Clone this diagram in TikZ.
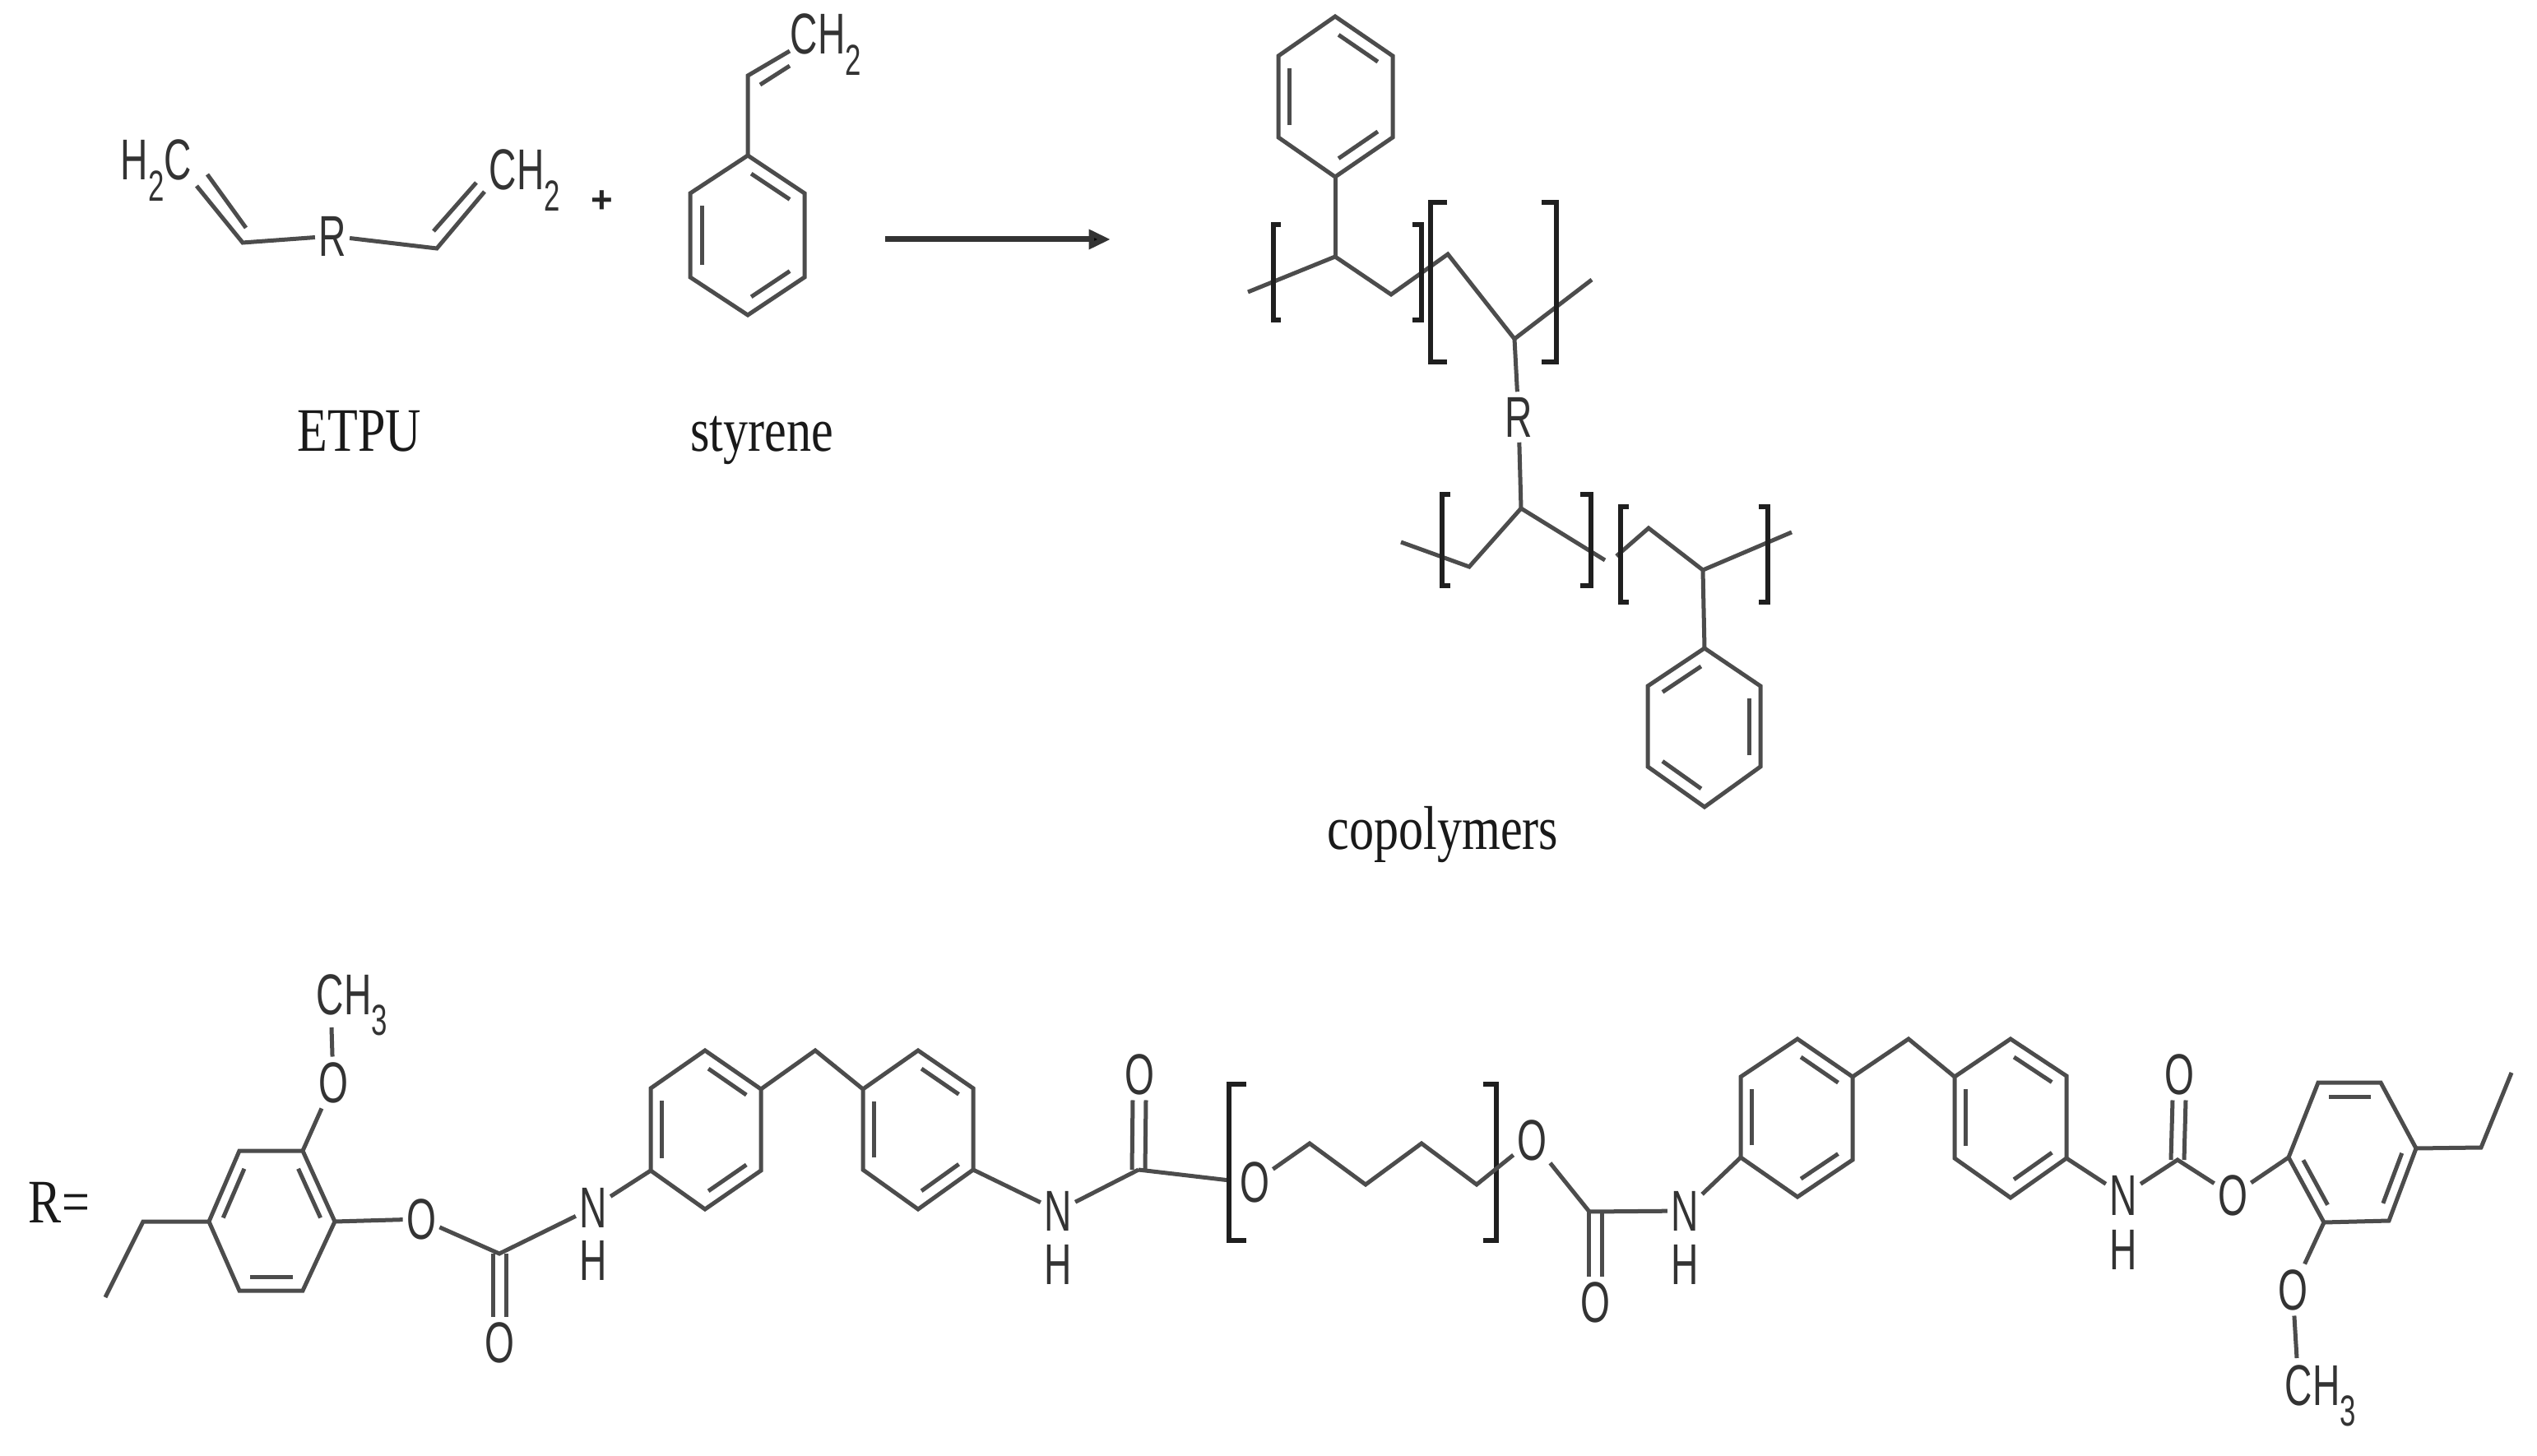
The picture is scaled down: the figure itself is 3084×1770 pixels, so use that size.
\documentclass[tikz,border=0pt]{standalone}
\usepackage{fontspec}
\setmainfont{Liberation Serif}
\newfontfamily\atomfont{Liberation Sans}
\usetikzlibrary{calc,arrows.meta}
\newcommand{\lowsub}[1]{\raisebox{-.36em}{\fontsize{15}{17}\selectfont #1}}
\newcommand{\hexa}[7]{%
  \coordinate (#11) at #2; \coordinate (#12) at #3; \coordinate (#13) at #4;
  \coordinate (#14) at #5; \coordinate (#15) at #6; \coordinate (#16) at #7;
  \coordinate (#1C) at ($(#11)!.5!(#14)$);
  \draw[bond] (#11)--(#12)--(#13)--(#14)--(#15)--(#16)--cycle;}
\newcommand{\inb}[3]{\draw[bond,shorten <=.05cm,shorten >=.05cm] ($(#1#2)!.2!(#1C)$) -- ($(#1#3)!.2!(#1C)$);}
\newcommand{\dblv}[2]{\draw[bond] ([xshift=-.08cm]#1) -- ([xshift=-.08cm]#2);\draw[bond] ([xshift=.08cm]#1) -- ([xshift=.08cm]#2);}
\newcommand{\brk}[4]{\draw[brkt] (#4,#2)--(#1,#2)--(#1,#3)--(#4,#3);}
\tikzset{
  bond/.style={draw=black!70,line width=.05cm,line join=miter},
  brkt/.style={draw=black!88,line width=.065cm},
  atom/.style={font=\atomfont\fontsize{19.9}{22}\selectfont,text=black!80,inner sep=.06cm,xscale=.66,transform shape},
  lab/.style={font=\fontsize{17.1}{20}\selectfont,text=black!90,inner sep=0pt,anchor=base,yscale=1.25,transform shape},
}
\begin{document}
\begin{tikzpicture}[x=.01cm,y=-.01cm]
\useasboundingbox (0,0) rectangle (3084,1770);
\fill[white] (0,0) rectangle (3084,1770);

% --- ETPU
\node[atom] (h2c) at (190,207) {H\lowsub{2}C};
\node[atom] (ch2a) at (638,219) {CH\lowsub{2}};
\node[atom] (ra) at (404,287) {R};
\coordinate (v1) at (295,295); \coordinate (v2) at (531,302);
\coordinate (v1a) at (239,226); \coordinate (v1b) at (252,212); \coordinate (v1c) at (299,277);
\coordinate (v2a) at (589,233); \coordinate (v2b) at (527,281); \coordinate (v2c) at (579,222);
\draw[bond] (v1a) -- (v1) -- (ra);
\draw[bond] (v1b) -- (v1c);
\draw[bond] (ra) -- (v2) -- (v2a);
\draw[bond] (v2b) -- (v2c);
\node[font=\atomfont\bfseries\fontsize{13}{15}\selectfont,text=black!85,inner sep=0pt] (plus) at (732,245) {+};
\node[lab] (etpu) at (437,549) {ETPU};

% --- styrene
\node[atom] (ch2b) at (1004,54) {CH\lowsub{2}};
\hexa{S}{(909,189)}{(978,235)}{(978,337)}{(909,383)}{(839,337)}{(839,235)}
\inb{S}{1}{2}\inb{S}{3}{4}\inb{S}{5}{6}
\coordinate (sv) at (909,92); \coordinate (sv1) at (960,62); \coordinate (sv2) at (924,103); \coordinate (sv3) at (960,80);
\draw[bond] (S1) -- (sv) -- (sv1);
\draw[bond] (sv2) -- (sv3);
\node[lab] (styrene) at (926,549) {styrene};

% --- arrow
\coordinate (ar1) at (1076,291); \coordinate (ar2) at (1350,291);
\draw[draw=black!80,line width=.07cm,-{Triangle[length=7.5pt,width=6.5pt,fill=black]}] (ar1) -- (ar2);

% --- copolymers, upper
\hexa{T}{(1623,20)}{(1693,68)}{(1693,167)}{(1623,215)}{(1554,167)}{(1554,68)}
\inb{T}{1}{2}\inb{T}{3}{4}\inb{T}{5}{6}
\coordinate (p0) at (1517,355); \coordinate (p1) at (1623,312); \coordinate (p2) at (1691,358);
\coordinate (p3) at (1760,309); \coordinate (p4) at (1841,412); \coordinate (p5) at (1935,340);
\draw[bond] (T4) -- (p1);
\draw[bond] (p0) -- (p1) -- (p2) -- (p3) -- (p4) -- (p5);
\brk{1548}{273}{389}{1557}
\brk{1728}{273}{389}{1717}
\brk{1739}{246}{440}{1759}
\brk{1892}{246}{440}{1874}
\node[atom] (rb) at (1846,507) {R};
\draw[bond] (p4) -- (rb);

% --- copolymers, lower
\coordinate (q0) at (1703,659); \coordinate (q1) at (1786,689); \coordinate (q2) at (1849,618);
\coordinate (q3) at (1951,681); \coordinate (q4) at (1965,676); \coordinate (q5) at (2004,642);
\coordinate (q6) at (2070,693); \coordinate (q7) at (2178,647);
\draw[bond] (rb) -- (q2);
\draw[bond] (q0) -- (q1) -- (q2) -- (q3);
\draw[bond] (q4) -- (q5) -- (q6) -- (q7);
\brk{1753}{601}{712}{1763}
\brk{1934}{601}{712}{1921}
\brk{1970}{616}{732}{1980}
\brk{2149}{616}{732}{2138}
\hexa{U}{(2072,788)}{(2140,834)}{(2140,932)}{(2072,981)}{(2003,932)}{(2003,834)}
\inb{U}{6}{1}\inb{U}{2}{3}\inb{U}{4}{5}
\draw[bond] (q6) -- (U1);
\node[lab] (copo) at (1754,1032) {copolymers};

% --- R= left end
\node[lab] (req) at (72,1486) {R=};
\hexa{E}{(254,1485)}{(291,1399)}{(368,1399)}{(407,1485)}{(368,1569)}{(291,1569)}
\inb{E}{1}{2}\inb{E}{3}{4}\inb{E}{5}{6}
\coordinate (t0) at (128,1577); \coordinate (t1) at (174,1485);
\draw[bond] (t0) -- (t1) -- (E1);
\node[atom] (o1) at (405,1316) {O};
\node[atom] (ch3a) at (428,1222) {CH\lowsub{3}};
\coordinate (ch3ae) at (403,1249);
\draw[bond] (E3) -- (o1);
\draw[bond] (o1) -- (ch3ae);
\node[atom] (o2) at (512,1482) {O};
\draw[bond] (E4) -- (o2);
\coordinate (c1) at (607,1524);
\node[atom] (n1) at (721,1468) {N};
\node[atom] (h1) at (721,1532) {H};
\node[atom] (o3) at (607,1632) {O};
\draw[bond] (o2) -- (c1) -- (n1);
\dblv{c1}{o3.north}

% --- ring A, B
\hexa{A}{(857,1277)}{(925,1324)}{(925,1423)}{(857,1470)}{(791,1423)}{(791,1323)}
\inb{A}{1}{2}\inb{A}{3}{4}\inb{A}{5}{6}
\draw[bond] (n1) -- (A5);
\hexa{B}{(1116,1277)}{(1183,1323)}{(1183,1422)}{(1116,1470)}{(1049,1422)}{(1049,1324)}
\inb{B}{1}{2}\inb{B}{3}{4}\inb{B}{5}{6}
\coordinate (m1) at (991,1277);
\draw[bond] (A2) -- (m1) -- (B6);
\node[atom] (n2) at (1286,1472) {N};
\node[atom] (h2) at (1286,1537) {H};
\draw[bond] (B3) -- (n2);
\coordinate (c2) at (1384,1422);
\node[atom] (o4) at (1385,1306) {O};
\draw[bond] (n2) -- (c2);
\dblv{c2}{o4.south}
\coordinate (bl) at (1495,1435);
\draw[bond] (c2) -- (bl);

% --- polyether
\brk{1494}{1318}{1508}{1515}
\brk{1819}{1318}{1508}{1803}
\node[atom] (o5) at (1525,1437) {O};
\node[atom] (o6) at (1862,1386) {O};
\coordinate (e1) at (1592,1390); \coordinate (e2) at (1660,1440);
\coordinate (e3) at (1728,1390); \coordinate (e4) at (1795,1440);
\draw[bond] (o5) -- (e1) -- (e2) -- (e3) -- (e4) -- (o6);
\coordinate (c3) at (1932,1473);
\coordinate (c3o) at (1939,1473);
\node[atom] (n3) at (2048,1472) {N};
\node[atom] (h3) at (2048,1537) {H};
\node[atom] (o7) at (1939,1583) {O};
\draw[bond] (o6) -- (c3) -- (n3);
\dblv{c3o}{o7.north}

% --- ring C, D
\hexa{C}{(2185,1263)}{(2252,1309)}{(2252,1410)}{(2185,1455)}{(2116,1407)}{(2116,1309)}
\inb{C}{1}{2}\inb{C}{3}{4}\inb{C}{5}{6}
\draw[bond] (n3) -- (C5);
\hexa{D}{(2444,1263)}{(2512,1308)}{(2512,1408)}{(2444,1456)}{(2376,1408)}{(2376,1309)}
\inb{D}{1}{2}\inb{D}{3}{4}\inb{D}{5}{6}
\coordinate (m2) at (2320,1263);
\draw[bond] (C2) -- (m2) -- (D6);
\node[atom] (n4) at (2581,1453) {N};
\node[atom] (h4) at (2581,1519) {H};
\draw[bond] (D3) -- (n4);
\coordinate (c4) at (2647,1410);
\node[atom] (o8) at (2649,1306) {O};
\node[atom] (o9) at (2714,1453) {O};
\draw[bond] (n4) -- (c4) -- (o9);
\dblv{c4}{o8.south}

% --- ring E right
\hexa{F}{(2782,1407)}{(2818,1316)}{(2894,1316)}{(2937,1396)}{(2904,1484)}{(2825,1486)}
\inb{F}{2}{3}\inb{F}{6}{1}\inb{F}{4}{5}
\draw[bond] (o9) -- (F1);
\coordinate (t2) at (3016,1395); \coordinate (t3) at (3053,1304);
\draw[bond] (F4) -- (t2) -- (t3);
\node[atom] (o10) at (2787,1568) {O};
\node[atom] (ch3b) at (2821,1697) {CH\lowsub{3}};
\coordinate (ch3be) at (2792,1651);
\draw[bond] (F6) -- (o10);
\draw[bond] (o10) -- (ch3be);
\end{tikzpicture}
\end{document}
